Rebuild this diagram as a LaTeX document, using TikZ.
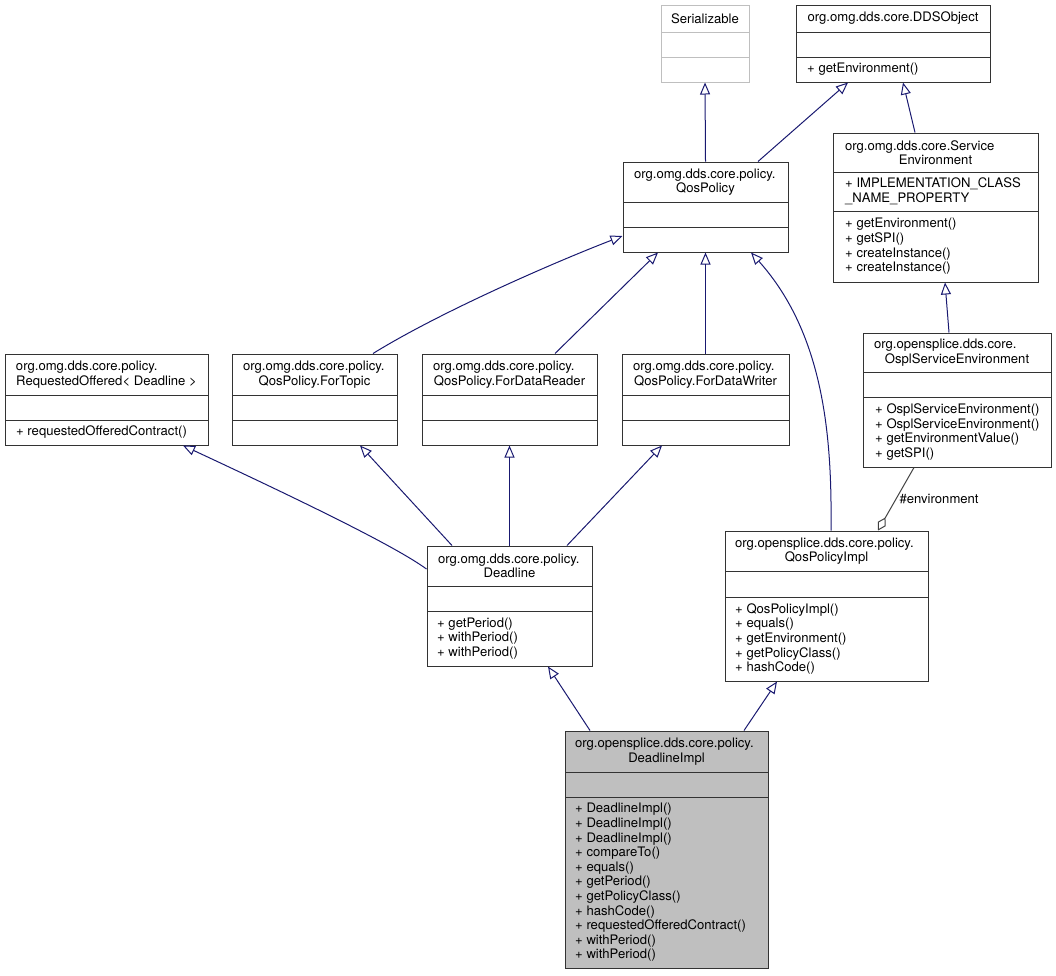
\documentclass[tikz,border=0pt]{standalone}
\usepackage{fontspec}
\setmainfont{TeX Gyre Heros}
\usetikzlibrary{arrows.meta}
\definecolor{edgeblue}{HTML}{191970}
\definecolor{aggrey}{HTML}{404040}
\definecolor{boxgrey}{HTML}{BFBFBF}

\begin{document}
\begin{tikzpicture}[x=1pt,y=-1pt,font=\fontsize{13.1}{14.6}\selectfont,
  cls/.style={draw=black!80,line width=1pt,fill=white,inner sep=0pt},
  div/.style={draw=black!80,line width=1pt},
  head/.style={inner sep=0pt,align=center},
  body/.style={inner sep=0pt,align=left,anchor=west},
  inh/.style={draw=edgeblue,line width=1pt,-{Triangle[open,length=12pt,width=10pt]}},
  agg/.style={draw=aggrey,line width=1pt,{Diamond[open,length=15pt,width=9pt]}-}] % doxygen class graph

\useasboundingbox (0,0) rectangle (1056,975);

% top row
\node[cls,draw=boxgrey,minimum width=88pt,minimum height=77pt] (ser) at (705,43.5) {};
\draw[boxgrey,line width=1pt] (661,32) -- (749,32) (661,57) -- (749,57);
\node[head] (ser-h) at (705,18.5) {Serializable};

\node[cls,minimum width=194pt,minimum height=77pt] (dds) at (893,43.5) {};
\draw[div] (796,32) -- (990,32) (796,57) -- (990,57);
\node[head] (dds-h) at (893,18.5) {org.omg.dds.core.DDSObject};
\node[body] (dds-m) at (807,69.5) {+ getEnvironment()};

\node[cls,minimum width=165pt,minimum height=90pt] (qp) at (705.5,207) {};
\draw[div] (623,202) -- (788,202) (623,227) -- (788,227);
\node[head] (qp-h) at (705.5,182) {\makebox[143pt][l]{org.omg.dds.core.policy.}\\QosPolicy};

\node[cls,minimum width=205pt,minimum height=149pt] (senv) at (935.5,207.5) {};
\draw[div] (833,172) -- (1038,172) (833,211) -- (1038,211);
\node[head] (senv-h) at (935.5,152.5) {\makebox[181pt][l]{org.omg.dds.core.Service}\\Environment};
\node[body] (senv-a) at (845,191.5) {+ IMPLEMENTATION\_CLASS\\\_NAME\_PROPERTY};
\node[body] (senv-m) at (845,246.5) {+ getEnvironment()\\+ getSPI()\\+ createInstance()\\+ createInstance()};

% middle row
\node[cls,minimum width=203pt,minimum height=91pt] (ro) at (106.5,399.5) {};
\draw[div] (5,395) -- (208,395) (5,420) -- (208,420);
\node[head] (ro-h) at (106.5,374.5) {\makebox[181pt][l]{org.omg.dds.core.policy.}\\RequestedOffered< Deadline >};
\node[body] (ro-m) at (16,432.5) {+ requestedOfferedContract()};

\node[cls,minimum width=165pt,minimum height=91pt] (ft) at (314.5,399.5) {};
\draw[div] (232,395) -- (397,395) (232,420) -- (397,420);
\node[head] (ft-h) at (314.5,374.5) {\makebox[143pt][l]{org.omg.dds.core.policy.}\\QosPolicy.ForTopic};

\node[cls,minimum width=175pt,minimum height=91pt] (fdr) at (509.5,399.5) {};
\draw[div] (422,395) -- (597,395) (422,420) -- (597,420);
\node[head] (fdr-h) at (509.5,374.5) {\makebox[153pt][l]{org.omg.dds.core.policy.}\\QosPolicy.ForDataReader};

\node[cls,minimum width=167pt,minimum height=91pt] (fdw) at (705.5,399.5) {};
\draw[div] (622,395) -- (789,395) (622,420) -- (789,420);
\node[head] (fdw-h) at (705.5,374.5) {\makebox[145pt][l]{org.omg.dds.core.policy.}\\QosPolicy.ForDataWriter};

\node[cls,minimum width=188pt,minimum height=134pt] (ospl) at (957,400) {};
\draw[div] (863,372) -- (1051,372) (863,397) -- (1051,397);
\node[head] (ospl-h) at (957,352.5) {\makebox[166pt][l]{org.opensplice.dds.core.}\\OsplServiceEnvironment};
\node[body] (ospl-m) at (875,432) {+ OsplServiceEnvironment()\\+ OsplServiceEnvironment()\\+ getEnvironmentValue()\\+ getSPI()};

% lower row
\node[cls,minimum width=165pt,minimum height=120pt] (dl) at (509.5,606) {};
\draw[div] (427,586) -- (592,586) (427,611) -- (592,611);
\node[head] (dl-h) at (509.5,566) {\makebox[143pt][l]{org.omg.dds.core.policy.}\\Deadline};
\node[body] (dl-m) at (437,638.5) {+ getPeriod()\\+ withPeriod()\\+ withPeriod()};

\node[cls,minimum width=203pt,minimum height=150pt] (qpi) at (826.5,606) {};
\draw[div] (725,571) -- (928,571) (725,597) -- (928,597);
\node[head] (qpi-h) at (826.5,551) {\makebox[183pt][l]{org.opensplice.dds.core.policy.}\\QosPolicyImpl};
\node[body] (qpi-m) at (735,639) {+ QosPolicyImpl()\\+ equals()\\+ getEnvironment()\\+ getPolicyClass()\\+ hashCode()};

\node[cls,fill=boxgrey,minimum width=203pt,minimum height=237pt] (dli) at (666.5,849.5) {};
\draw[div] (565,772) -- (768,772) (565,797) -- (768,797);
\node[head] (dli-h) at (666.5,751.5) {\makebox[183pt][l]{org.opensplice.dds.core.policy.}\\DeadlineImpl};
\node[body] (dli-m) at (575,882.5) {+ DeadlineImpl()\\+ DeadlineImpl()\\+ DeadlineImpl()\\+ compareTo()\\+ equals()\\+ getPeriod()\\+ getPolicyClass()\\+ hashCode()\\+ requestedOfferedContract()\\+ withPeriod()\\+ withPeriod()};

% inheritance
\draw[inh] (qp.north) -- (ser.south);
\draw[inh] ([xshift=52.5pt]qp.north) -- ([xshift=-45pt]dds.south);
\draw[inh] ([xshift=-20.5pt]senv.north) -- ([xshift=10pt]dds.south);
\draw[inh] ([xshift=58.5pt]ft.north) .. controls (440,312) and (555,262) .. ([yshift=-29pt]qp.west);
\draw[inh] ([xshift=45.5pt]fdr.north) -- ([xshift=-47.5pt]qp.south);
\draw[inh] (fdw.north) -- (qp.south);
\draw[inh] ([xshift=4.5pt]qpi.north) .. controls (832,440) and (825,335) .. ([xshift=45.5pt]qp.south);
\draw[inh] ([xshift=-8pt]ospl.north) -- ([xshift=9.5pt]senv.south);
\draw[inh] ([yshift=37pt]dl.west) .. controls (395,546) and (300,500) .. ([xshift=76.5pt]ro.south);
\draw[inh] ([xshift=-57.5pt]dl.north) -- ([xshift=45.5pt]ft.south);
\draw[inh] (dl.north) -- (fdr.south);
\draw[inh] ([xshift=57.5pt]dl.north) -- ([xshift=-43.5pt]fdw.south);
\draw[inh] ([xshift=-76.5pt]dli.north) -- ([xshift=38.5pt]dl.south);
\draw[inh] ([xshift=77.5pt]dli.north) -- ([xshift=-49.5pt]qpi.south);

% aggregation
\draw[agg] ([xshift=51.5pt]qpi.north) -- node[anchor=west,inner sep=0pt,xshift=3pt] (env-l) {\#environment} ([xshift=-43pt]ospl.south);

\end{tikzpicture}
\end{document}
